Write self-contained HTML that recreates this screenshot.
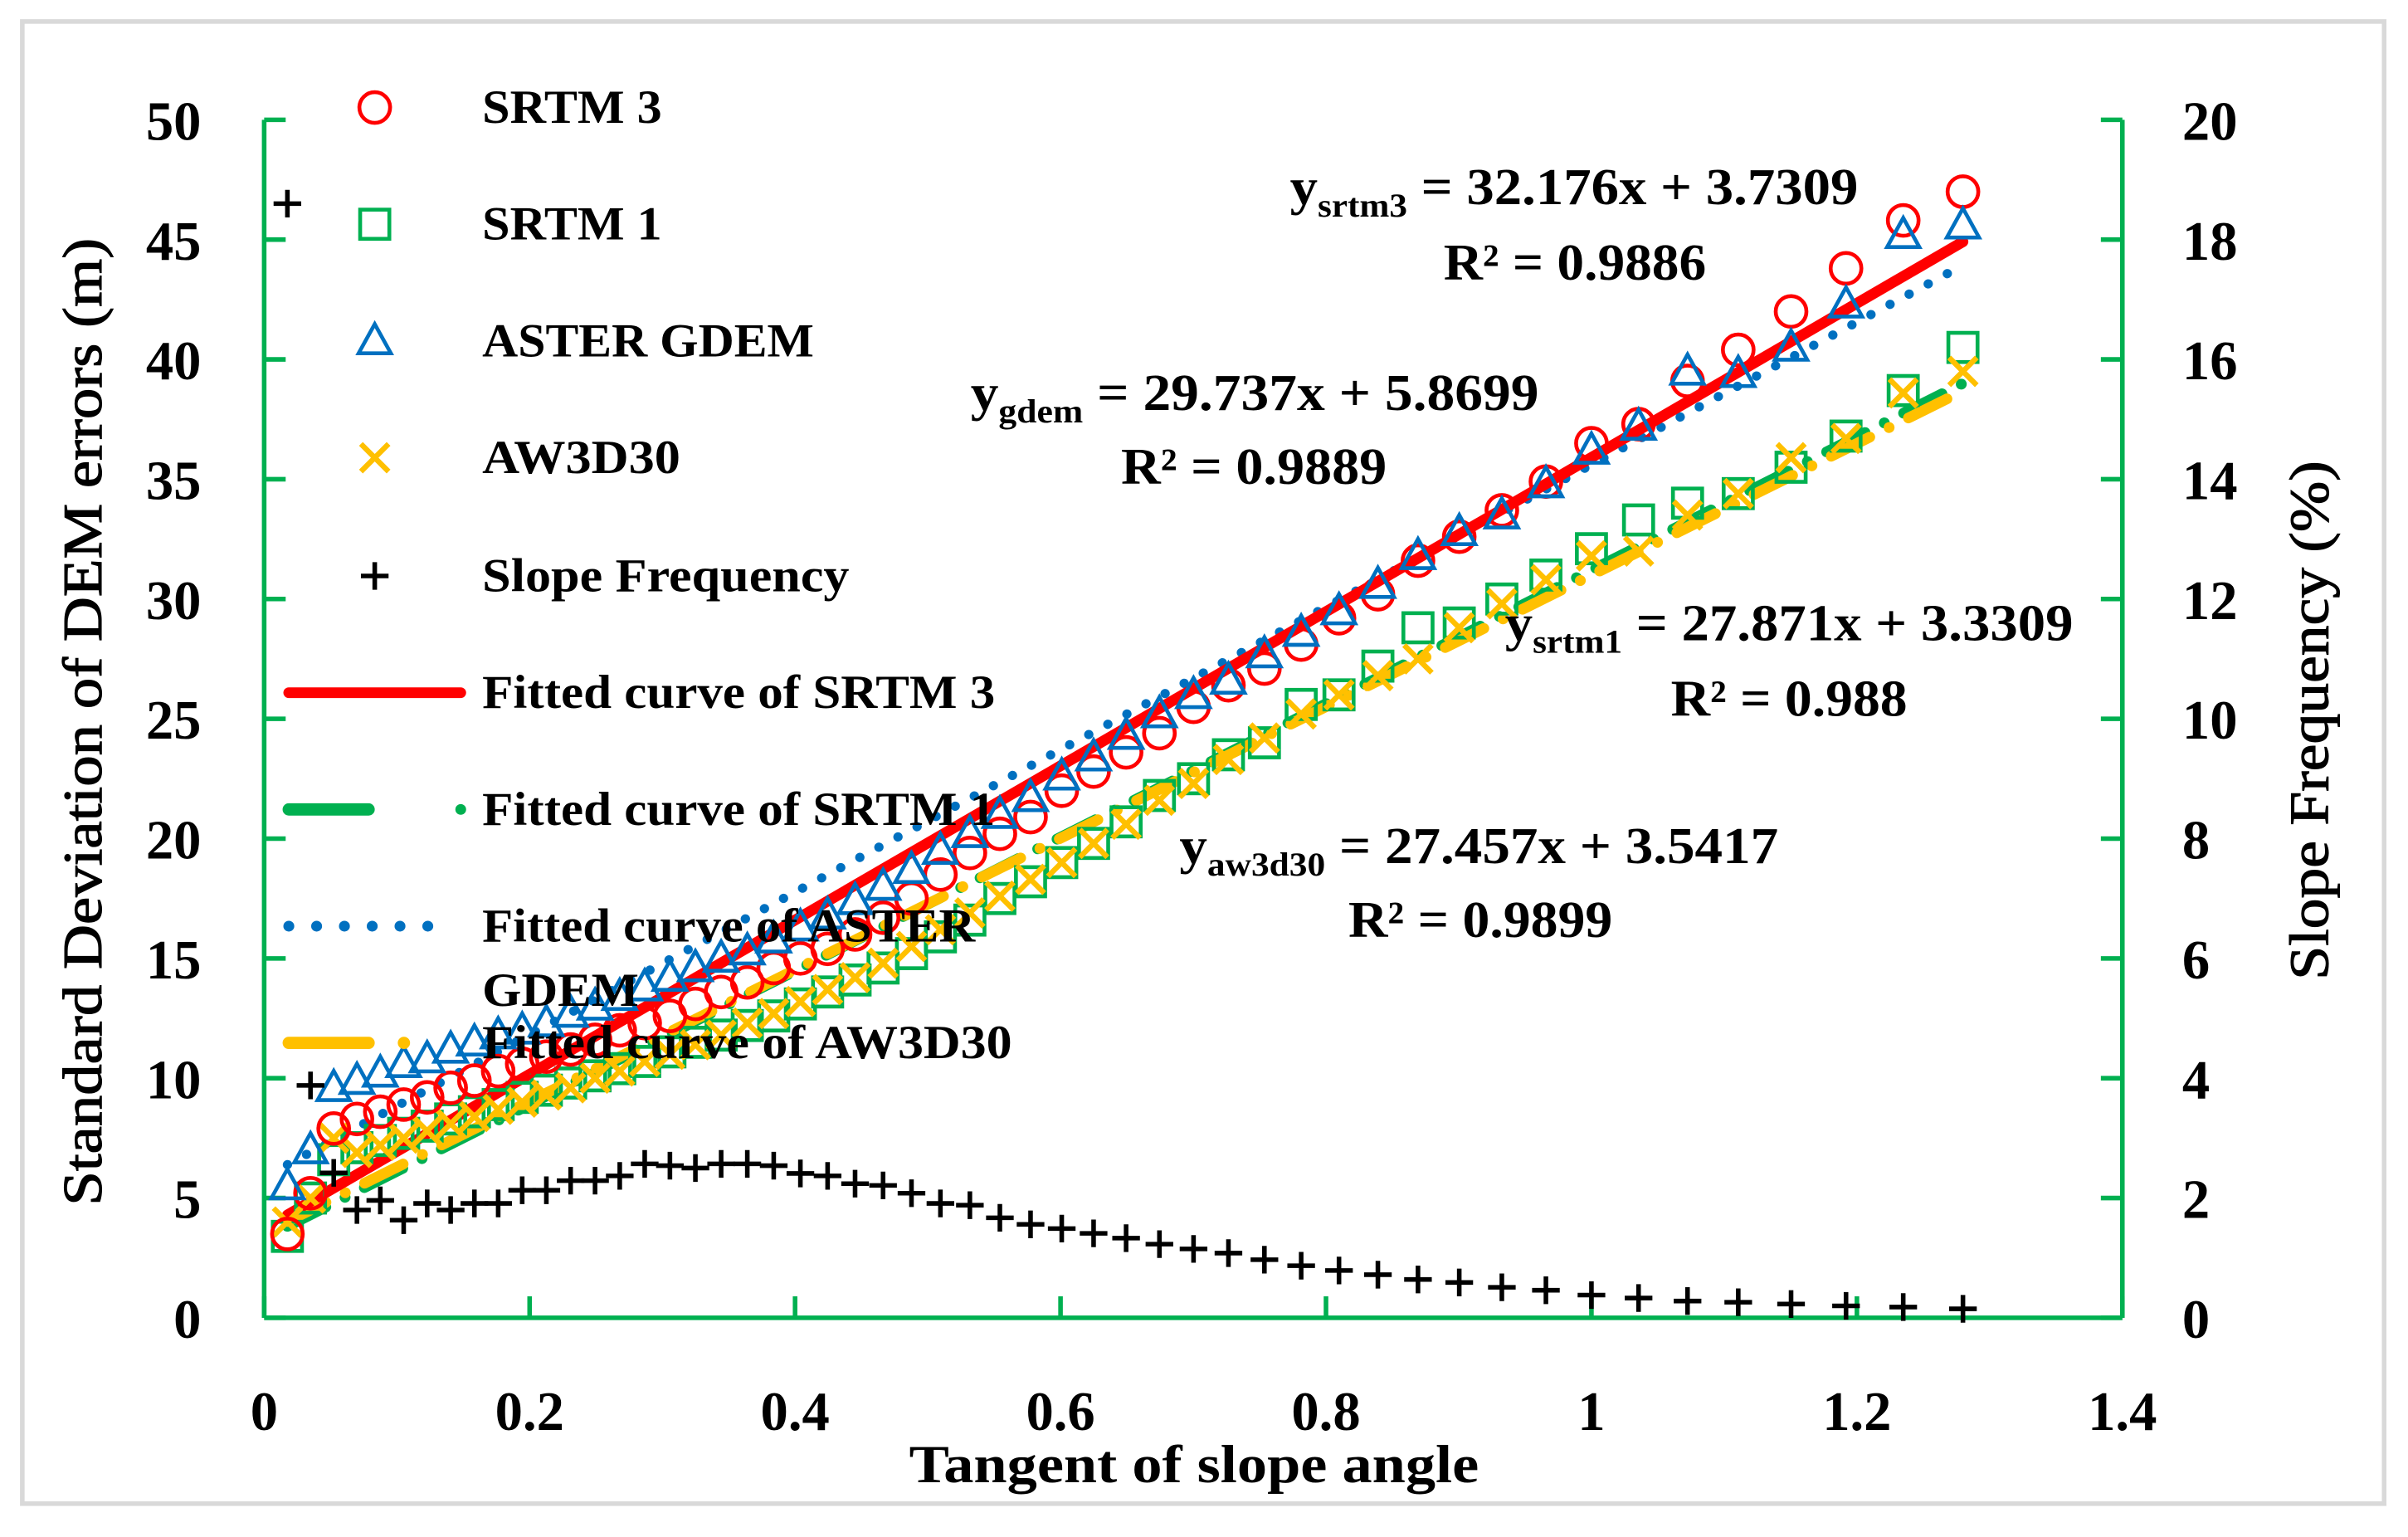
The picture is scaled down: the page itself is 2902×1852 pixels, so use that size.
<!DOCTYPE html>
<html><head><meta charset="utf-8"><style>
html,body{margin:0;padding:0;background:#fff}
svg{display:block}
text{font-family:"Liberation Serif",serif;font-weight:bold;fill:#000}
</style></head><body>
<svg id="chart" xmlns="http://www.w3.org/2000/svg" width="2902" height="1852" viewBox="0 0 1568 1000.7">
<rect x="14.5" y="14" width="1538" height="965" fill="#fff" stroke="#d9d9d9" stroke-width="3"/>
<g id="axes"></g>
<g id="fits"></g>
<g id="marks"></g>
<g id="legend"></g>
<g font-size="34">
<text x="840" y="133" textLength="370" lengthAdjust="spacingAndGlyphs">y<tspan font-size="22" dy="8">srtm3</tspan><tspan dy="-8"> = 32.176x + 3.7309</tspan></text>
<text x="940" y="182" textLength="171" lengthAdjust="spacingAndGlyphs">R² = 0.9886</text>
<text x="632" y="267" textLength="370" lengthAdjust="spacingAndGlyphs">y<tspan font-size="22" dy="8">gdem</tspan><tspan dy="-8"> = 29.737x + 5.8699</tspan></text>
<text x="730" y="315" textLength="173" lengthAdjust="spacingAndGlyphs">R² = 0.9889</text>
<text x="980" y="417" textLength="370" lengthAdjust="spacingAndGlyphs">y<tspan font-size="22" dy="8">srtm1</tspan><tspan dy="-8"> = 27.871x + 3.3309</tspan></text>
<text x="1088" y="466" textLength="154" lengthAdjust="spacingAndGlyphs">R² = 0.988</text>
<text x="768" y="562" textLength="390" lengthAdjust="spacingAndGlyphs">y<tspan font-size="22" dy="8">aw3d30</tspan><tspan dy="-8"> = 27.457x + 3.5417</tspan></text>
<text x="878" y="610" textLength="172" lengthAdjust="spacingAndGlyphs">R² = 0.9899</text>
</g>
<text x="592" y="965" font-size="35" textLength="371" lengthAdjust="spacingAndGlyphs">Tangent of slope angle</text>
<text transform="translate(66,470) rotate(-90)" font-size="36" text-anchor="middle" textLength="630" lengthAdjust="spacingAndGlyphs" style="font-weight:normal;stroke:#000;stroke-width:0.6">Standard Deviation of DEM errors (m)</text>
<text transform="translate(1516,469) rotate(-90)" font-size="36" text-anchor="middle" textLength="338" lengthAdjust="spacingAndGlyphs" style="font-weight:normal;stroke:#000;stroke-width:0.6">Slope Frequency (%)</text>
</svg>
<script>
const xs=[0.0175,0.0349,0.0524,0.0699,0.0875,0.1051,0.1228,0.1405,0.1584,0.1763,0.1944,0.2126,0.2309,0.2493,0.2679,0.2867,0.3057,0.3249,0.3443,0.3640,0.3839,0.4040,0.4245,0.4452,0.4663,0.4877,0.5095,0.5317,0.5543,0.5774,0.6009,0.6249,0.6494,0.6745,0.7002,0.7265,0.7536,0.7813,0.8098,0.8391,0.8693,0.9004,0.9325,0.9657,1.0000,1.0355,1.0724,1.1106,1.1504,1.1918,1.2349,1.2799];
const srtm3=[3.5,5.2,7.9,8.3,8.6,8.9,9.2,9.6,9.9,10.3,10.6,10.9,11.2,11.6,12.0,12.3,12.6,13.1,13.6,14.0,14.6,15.0,15.4,16.0,16.7,17.5,18.5,19.4,20.2,20.9,22.0,22.8,23.6,24.4,25.5,26.4,27.1,28.1,29.2,30.2,31.6,32.6,33.7,34.9,36.5,37.3,39.1,40.4,42.0,43.8,45.8,47.0];
const srtm1=[3.4,5.0,6.6,7.1,7.4,7.7,8.0,8.3,8.6,8.9,9.2,9.5,9.8,10.1,10.4,10.7,11.1,11.5,11.8,12.2,12.6,13.1,13.6,14.1,14.6,15.2,15.9,16.6,17.5,18.2,19.0,19.8,20.7,21.8,22.5,23.5,24.0,25.6,26.0,27.2,28.8,29.0,30.0,31.0,32.1,33.3,34.0,34.4,35.5,36.8,38.7,40.5];
const gdem=[5.5,7.0,9.6,9.9,10.2,10.6,10.8,11.2,11.5,11.8,12.0,12.3,12.7,13.0,13.4,13.8,14.2,14.6,15.0,15.3,15.8,16.3,16.8,17.4,18.0,18.7,19.5,20.2,21.0,21.7,22.6,23.4,24.3,25.2,26.0,26.6,27.7,28.6,29.5,30.6,31.8,32.8,33.5,34.8,36.2,37.2,39.5,39.4,40.5,42.3,45.2,45.6];
const aw3d30=[4.0,5.0,7.5,6.9,7.2,7.5,7.8,8.1,8.4,8.7,9.0,9.3,9.6,10.0,10.3,10.7,11.0,11.4,11.8,12.3,12.7,13.2,13.7,14.2,14.8,15.5,16.2,16.9,17.6,18.3,19.0,19.8,20.6,21.6,22.3,23.3,24.2,25.2,26.0,26.8,27.5,28.8,29.8,30.8,31.8,32.0,33.5,34.4,35.9,36.7,38.6,39.5];
const slopeFreq=[18.6,3.88,2.42,1.80,1.96,1.63,1.91,1.80,1.91,1.91,2.13,2.13,2.29,2.29,2.37,2.57,2.54,2.5,2.57,2.57,2.54,2.41,2.37,2.24,2.21,2.08,1.91,1.88,1.67,1.56,1.49,1.41,1.33,1.23,1.15,1.08,0.97,0.87,0.79,0.72,0.64,0.59,0.51,0.46,0.38,0.33,0.28,0.26,0.23,0.2,0.18,0.15];
const fitSlopes=[32.176,27.871,29.737,27.457];
const fitIntercepts=[3.7309,3.3309,5.8699,3.5417];
const xTicks=[0,0.2,0.4,0.6,0.8,1,1.2,1.4];
const xTickLabels=["0","0.2","0.4","0.6","0.8","1","1.2","1.4"];
const yTicks=[0,5,10,15,20,25,30,35,40,45,50];
const y2Ticks=[0,2,4,6,8,10,12,14,16,18,20];

const NS="http://www.w3.org/2000/svg";
const X=v=>172+v*864.3;
const Y=v=>858-v*15.6;
const Y2=p=>858-p*39;
function mk(tag,attrs,parent){const e=document.createElementNS(NS,tag);for(const k in attrs)e.setAttribute(k,attrs[k]);parent.appendChild(e);return e;}
const G='#00b050';
const axes=document.getElementById('axes');
let e;
e=mk('line',{x1:X(0),y1:Y(50),x2:X(0),y2:Y(0),stroke:G,'stroke-width':3},axes);

e=mk('line',{x1:X(1.4),y1:Y(50),x2:X(1.4),y2:Y(0),stroke:G,'stroke-width':3},axes);

e=mk('line',{x1:X(0),y1:Y(0),x2:X(1.4),y2:Y(0),stroke:G,'stroke-width':3},axes);

xTicks.forEach((t,i)=>{
 e=mk('line',{x1:X(t),y1:Y(0),x2:X(t),y2:Y(0)-14,stroke:G,'stroke-width':3},axes);
 
 e=mk('text',{x:X(t),y:931,'font-size':36,'text-anchor':'middle'},axes);e.textContent=xTickLabels[i];
 
});
yTicks.forEach(t=>{
 e=mk('line',{x1:X(0),y1:Y(t),x2:X(0)+14,y2:Y(t),stroke:G,'stroke-width':3},axes);
 
 e=mk('text',{x:131,y:Y(t)+13,'font-size':36,'text-anchor':'end'},axes);e.textContent=String(t);
 
});
y2Ticks.forEach(t=>{
 e=mk('line',{x1:X(1.4),y1:Y2(t),x2:X(1.4)-14,y2:Y2(t),stroke:G,'stroke-width':3},axes);
 
 e=mk('text',{x:1421,y:Y2(t)+13,'font-size':36,'text-anchor':'start'},axes);e.textContent=String(t);
 
});
const fits=document.getElementById('fits');
const fitStyles=[
 {stroke:'#ff0000',w:7,dash:'',cap:'round',name:'fit-srtm3'},
 {stroke:'#00b050',w:7,dash:'28 14 0.1 14',cap:'round',name:'fit-srtm1'},
 {stroke:'#0070c0',w:6,dash:'0.1 14',cap:'round',name:'fit-gdem'},
 {stroke:'#ffc000',w:7,dash:'28 14 0.1 14',cap:'round',name:'fit-aw3d30'}];
const x0=xs[0],x1=xs[xs.length-1];
[2,1,3,0].forEach(i=>{
 const s=fitStyles[i];
 e=mk('line',{x1:X(x0),y1:Y(fitSlopes[i]*x0+fitIntercepts[i]),x2:X(x1),y2:Y(fitSlopes[i]*x1+fitIntercepts[i]),stroke:s.stroke,'stroke-width':s.w,'stroke-dasharray':s.dash,'stroke-linecap':s.cap},fits);
 
});
const marks=document.getElementById('marks');
function circle(p,cx,cy){return mk('circle',{cx:cx,cy:cy,r:10,fill:'none',stroke:'#ff0000','stroke-width':2.5},p);}
function square(p,cx,cy){return mk('rect',{x:cx-9.5,y:cy-9.5,width:19,height:19,fill:'none',stroke:'#00b050','stroke-width':2.5},p);}
function tri(p,cx,cy){return mk('polygon',{points:`${cx},${cy-11} ${cx-10.5},${cy+8} ${cx+10.5},${cy+8}`,fill:'none',stroke:'#0070c0','stroke-width':2.5},p);}
function cross(p,cx,cy){return mk('path',{d:`M${cx-9},${cy-9}L${cx+9},${cy+9}M${cx+9},${cy-9}L${cx-9},${cy+9}`,stroke:'#ffc000','stroke-width':3.5,fill:'none'},p);}
function plus(p,cx,cy){return mk('path',{d:`M${cx-9},${cy}L${cx+9},${cy}M${cx},${cy-9}L${cx},${cy+9}`,stroke:'#000','stroke-width':3,fill:'none'},p);}
xs.forEach((x,i)=>{
 e=square(marks,X(x),Y(srtm1[i]));
});
xs.forEach((x,i)=>{
 e=cross(marks,X(x),Y(aw3d30[i]));
});
xs.forEach((x,i)=>{
 e=circle(marks,X(x),Y(srtm3[i]));
});
xs.forEach((x,i)=>{
 e=tri(marks,X(x),Y(gdem[i]));
});
xs.forEach((x,i)=>{
 e=plus(marks,X(x),Y2(slopeFreq[i]));
});
const lg=document.getElementById('legend');
const rows=[70,146,222,298,375,451,527,603,679];
const labels=['SRTM 3','SRTM 1','ASTER GDEM','AW3D30','Slope Frequency','Fitted curve of SRTM 3','Fitted curve of SRTM 1','Fitted curve of ASTER','Fitted curve of AW3D30'];
const lwidths=[117,117,216,129,239,334,334,321,345];
const lnames=['legend-srtm3','legend-srtm1','legend-gdem','legend-aw3d30','legend-slope-frequency','legend-fit-srtm3','legend-fit-srtm1','legend-fit-gdem','legend-fit-aw3d30'];
const mfn=[circle,square,tri,cross,plus];
rows.forEach((ry,i)=>{
 const g=mk('g',{},lg);
 
 
 if(i<5){mfn[i](g,244,ry);}
 else if(i===5){mk('line',{x1:188,y1:ry,x2:300,y2:ry,stroke:'#ff0000','stroke-width':7,'stroke-linecap':'round'},g);}
 else if(i===6){mk('line',{x1:188,y1:ry,x2:240,y2:ry,stroke:'#00b050','stroke-width':8,'stroke-linecap':'round'},g);mk('circle',{cx:300,cy:ry,r:3.5,fill:'#00b050'},g);}
 else if(i===7){mk('line',{x1:188,y1:ry,x2:295,y2:ry,stroke:'#0070c0','stroke-width':7,'stroke-dasharray':'0.1 18','stroke-linecap':'round'},g);}
 else {mk('line',{x1:188,y1:ry,x2:240,y2:ry,stroke:'#ffc000','stroke-width':8,'stroke-linecap':'round'},g);mk('circle',{cx:263,cy:ry,r:4,fill:'#ffc000'},g);}
 const t=mk('text',{x:314,y:ry+10,'font-size':31,textLength:lwidths[i],lengthAdjust:'spacingAndGlyphs'},g);t.textContent=labels[i];
});
e=mk('text',{x:314,y:655,'font-size':31,textLength:102,lengthAdjust:'spacingAndGlyphs'},lg);e.textContent='GDEM';

</script>
</body></html>
